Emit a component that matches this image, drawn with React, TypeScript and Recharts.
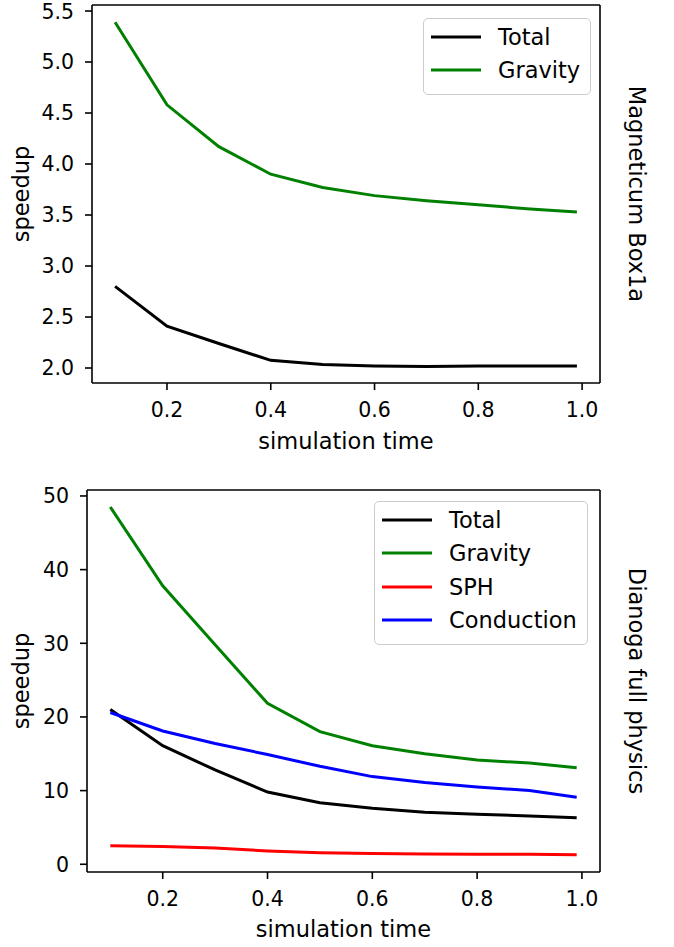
import React from "react";
import {
  LineChart,
  Line,
  XAxis,
  YAxis,
  Legend,
  ReferenceLine,
} from "recharts";

// simulation time (x) shared by both panels
const simTime = [0.1, 0.2, 0.3, 0.4, 0.5, 0.6, 0.7, 0.8, 0.9, 0.99];
const xTicks = [0.2, 0.4, 0.6, 0.8, 1.0];

// Magneticum Box1a
const boxTotal = [2.8, 2.41, 2.24, 2.075, 2.035, 2.02, 2.015, 2.02, 2.02, 2.02];
const boxGravity = [5.39, 4.58, 4.17, 3.9, 3.77, 3.69, 3.64, 3.6, 3.56, 3.53];
const boxTicks = [2.0, 2.5, 3.0, 3.5, 4.0, 4.5, 5.0, 5.5];

// Dianoga full physics
const dianogaTotal = [21.0, 16.1, 12.8, 9.8, 8.35, 7.6, 7.05, 6.8, 6.55, 6.3];
const dianogaGravity = [48.5, 37.8, 29.8, 21.85, 18.0, 16.1, 15.0, 14.15, 13.75, 13.1];
const dianogaSph = [2.5, 2.4, 2.2, 1.8, 1.55, 1.45, 1.4, 1.35, 1.35, 1.3];
const dianogaConduction = [20.6, 18.1, 16.4, 14.9, 13.3, 11.9, 11.1, 10.5, 10.0, 9.1];
const dianogaTicks = [0, 10, 20, 30, 40, 50];

const FONT = "'DejaVu Sans', sans-serif";
const TICK_FONT = 20.5;
const LABEL_FONT = 22.5;
const X_DOMAIN = [0.0555, 1.0345];

const boxData = simTime.map((t, i) => ({
  t,
  total: boxTotal[i],
  gravity: boxGravity[i],
}));

const dianogaData = simTime.map((t, i) => ({
  t,
  total: dianogaTotal[i],
  gravity: dianogaGravity[i],
  sph: dianogaSph[i],
  conduction: dianogaConduction[i],
}));

type Series = { key: string; name: string; color: string };

const axisLine = { stroke: "#000", strokeWidth: 1.6 };
const tickStyle = { fill: "#000", fontSize: TICK_FONT, fontFamily: FONT };

// matplotlib-ish legend box, keeps plotting order
function MplLegend({ series }: { series: Series[] }) {
  return (
    <div
      style={{
        border: "1.5px solid #cccccc",
        borderRadius: 5,
        background: "rgba(255,255,255,0.8)",
        padding: "1px 10px 7px 7px",
        fontFamily: FONT,
        fontSize: LABEL_FONT,
        color: "#000",
        boxSizing: "border-box",
      }}
    >
      {series.map((s) => (
        <div
          key={s.key}
          style={{ display: "flex", alignItems: "center", height: 33.5, whiteSpace: "nowrap" }}
        >
          <svg width={50} height={6} style={{ marginRight: 17 }}>
            <line x1={0} y1={3} x2={50} y2={3} stroke={s.color} strokeWidth={3} />
          </svg>
          <span>{s.name}</span>
        </div>
      ))}
    </div>
  );
}

function Panel(props: {
  data: any[];
  series: Series[];
  height: number;
  marginTop: number;
  yWidth: number;
  xHeight: number;
  yDomain: number[];
  yTicks: number[];
  yFmt: (v: number) => string;
  xLabelOffset: number;
  sideLabel: string;
  legendPos: { left: number; top: number };
}) {
  const p = props;
  return (
    <LineChart
      width={674}
      height={p.height}
      data={p.data}
      margin={{ top: p.marginTop, right: 0, bottom: 0, left: 0 }}
    >
      <XAxis
        dataKey="t"
        type="number"
        domain={X_DOMAIN}
        ticks={xTicks}
        allowDataOverflow
        tickFormatter={(v: number) => v.toFixed(1)}
        height={p.xHeight}
        tickSize={7}
        tickMargin={12}
        axisLine={axisLine}
        tickLine={axisLine}
        tick={tickStyle}
        label={{
          value: "simulation time",
          position: "insideBottom",
          offset: p.xLabelOffset,
          style: { fill: "#000", fontSize: LABEL_FONT, fontFamily: FONT },
        }}
      />
      <YAxis
        type="number"
        domain={p.yDomain}
        ticks={p.yTicks}
        allowDataOverflow
        tickFormatter={p.yFmt}
        width={p.yWidth}
        tickSize={7}
        tickMargin={11}
        axisLine={axisLine}
        tickLine={axisLine}
        tick={tickStyle}
        label={{
          value: "speedup",
          angle: -90,
          position: "insideLeft",
          offset: 21,
          style: { fill: "#000", fontSize: LABEL_FONT, fontFamily: FONT, textAnchor: "middle" },
        }}
      />
      <YAxis
        yAxisId="right"
        orientation="right"
        width={74}
        tick={false}
        tickLine={false}
        axisLine={axisLine}
        label={{
          value: p.sideLabel,
          angle: 90,
          position: "insideLeft",
          offset: 37,
          style: { fill: "#000", fontSize: LABEL_FONT, fontFamily: FONT, textAnchor: "middle" },
        }}
      />
      {/* top spine */}
      <ReferenceLine y={p.yDomain[1]} stroke="#000" strokeWidth={1.6} />
      {p.series.map((s) => (
        <Line
          key={s.key}
          dataKey={s.key}
          name={s.name}
          stroke={s.color}
          strokeWidth={3}
          dot={false}
          activeDot={false}
          type="linear"
          isAnimationActive={false}
        />
      ))}
      <Legend
        layout="horizontal"
        align="center"
        verticalAlign="middle"
        content={<MplLegend series={p.series} />}
        wrapperStyle={{ left: p.legendPos.left, top: p.legendPos.top, width: "auto", height: "auto" }}
      />
    </LineChart>
  );
}

export default function App() {
  return (
    <div style={{ position: "absolute", left: 0, top: 0, width: 674, height: 947, background: "#fff" }}>
      <div style={{ position: "absolute", left: 0, top: 0 }}>
        <Panel
          data={boxData}
          series={[
            { key: "total", name: "Total", color: "#000000" },
            { key: "gravity", name: "Gravity", color: "#008000" },
          ]}
          height={470}
          marginTop={5}
          yWidth={92}
          xHeight={87}
          yDomain={[1.853, 5.559]}
          yTicks={boxTicks}
          yFmt={(v) => v.toFixed(1)}
          xLabelOffset={21}
          sideLabel="Magneticum Box1a"
          legendPos={{ left: 423, top: 18 }}
        />
      </div>
      <div style={{ position: "absolute", left: 0, top: 470 }}>
        <Panel
          data={dianogaData}
          series={[
            { key: "total", name: "Total", color: "#000000" },
            { key: "gravity", name: "Gravity", color: "#008000" },
            { key: "sph", name: "SPH", color: "#ff0000" },
            { key: "conduction", name: "Conduction", color: "#0000ff" },
          ]}
          height={477}
          marginTop={20}
          yWidth={87}
          xHeight={75}
          yDomain={[-1.05, 50.81]}
          yTicks={dianogaTicks}
          yFmt={(v) => String(v)}
          xLabelOffset={10.5}
          sideLabel="Dianoga full physics"
          legendPos={{ left: 374, top: 31 }}
        />
      </div>
    </div>
  );
}
